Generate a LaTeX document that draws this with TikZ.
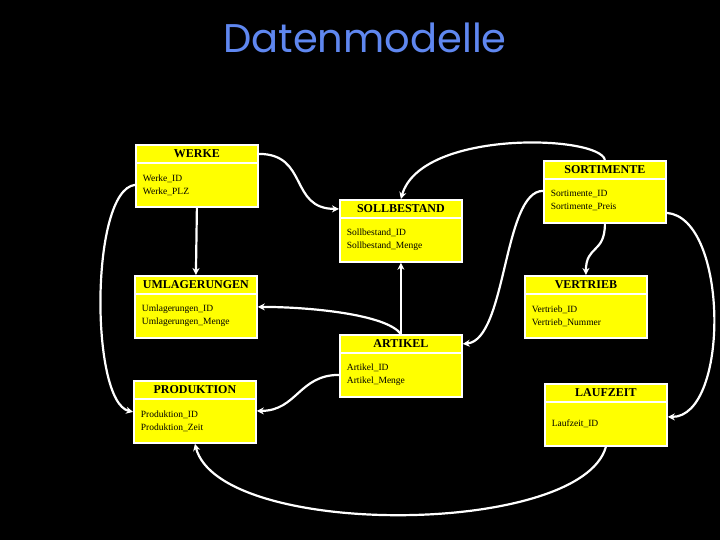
\documentclass[tikz,border=0pt]{standalone}
\usepackage{fontspec}
\setmainfont{Liberation Serif}
\newfontfamily\titlefont{Poppins}
\usetikzlibrary{arrows.meta, calc}
\definecolor{boxyellow}{RGB}{255,255,0}
\definecolor{titleblue}{RGB}{95,135,240}
\tikzset{
	head/.style={draw=white, line width=1.8pt, fill=boxyellow, anchor=north west,
		minimum width=122pt, minimum height=18pt, inner sep=0pt,
		font=\fontsize{12}{12}\selectfont\bfseries},
	attrs/.style={draw=white, line width=1.8pt, fill=boxyellow, anchor=north west,
		minimum width=122pt, minimum height=44pt, text width=108pt, inner xsep=7pt,
		align=left, font=\fontsize{9.5}{13}\selectfont},
	link/.style={draw=white, line width=2.2pt, -{Stealth[length=7pt,width=7pt]}}
}
\begin{document}
\begin{tikzpicture}[x=1pt,y=-1pt]
	\fill[black] (0,0) rectangle (720,540);
	\useasboundingbox (0,0) rectangle (720,540);
	\node[font=\titlefont\fontsize{40}{40}\selectfont, text=titleblue] (title) at (365,38) {Datenmodelle};
	% entities
	\node[head] (werke) at (135,144) {WERKE};
	\node[attrs] (werkeb) at (135,162) {Werke\_ID\\Werke\_PLZ};
	\node[head] (soll) at (339,199) {SOLLBESTAND};
	\node[attrs] (sollb) at (339,217) {Sollbestand\_ID\\Sollbestand\_Menge};
	\node[head] (sort) at (543,160) {SORTIMENTE};
	\node[attrs] (sortb) at (543,178) {Sortimente\_ID\\Sortimente\_Preis};
	\node[head] (umlag) at (134,275) {UMLAGERUNGEN};
	\node[attrs] (umlagb) at (134,293) {Umlagerungen\_ID\\Umlagerungen\_Menge};
	\node[head] (vertr) at (524,275) {VERTRIEB};
	\node[attrs] (vertrb) at (524,293) {Vertrieb\_ID\\Vertrieb\_Nummer};
	\node[head] (arti) at (339,334) {ARTIKEL};
	\node[attrs] (artib) at (339,352) {Artikel\_ID\\Artikel\_Menge};
	\node[head] (produk) at (133,380) {PRODUKTION};
	\node[attrs] (produkb) at (133,398) {Produktion\_ID\\Produktion\_Zeit};
	\node[head] (lauf) at (544,383) {LAUFZEIT};
	\node[attrs] (laufb) at (544,401) {Laufzeit\_ID};
	% relations
	\draw[link] (werke.east) .. controls +(50,0) and +(-50,0) .. (soll.west);
	\draw[link] (sort.north) .. controls +(-5,-25) and +(20,-70) .. (soll.north);
	\draw[link] (werkeb.south) -- (umlag.north);
	\draw[link] (werkeb.west) .. controls +(-45,5) and +(-43,-10) .. ($(produkb.west)+(0,-9)$);
	\draw[link] ($(sortb.west)+(0,-10)$) .. controls +(-40,0) and +(44,-4) .. (arti.east);
	\draw[link] (sortb.south) .. controls +(0,30) and +(0,-30) .. (vertr.north);
	\draw[link] ($(sortb.east)+(0,12)$) .. controls +(62,5) and +(62,0) .. ($(laufb.east)+(0,-7)$);
	\draw[link] (arti.north) -- (sollb.south);
	\draw[link] (arti.north) .. controls +(-15,-20) and +(50,0) .. ($(umlagb.east)+(0,-9)$);
	\draw[link] (artib.west) .. controls +(-40,0) and +(40,0) .. ($(produkb.east)+(0,-10)$);
	\draw[link] (laufb.south) .. controls +(-25,90) and +(25,95) .. (produkb.south);
\end{tikzpicture}
\end{document}
